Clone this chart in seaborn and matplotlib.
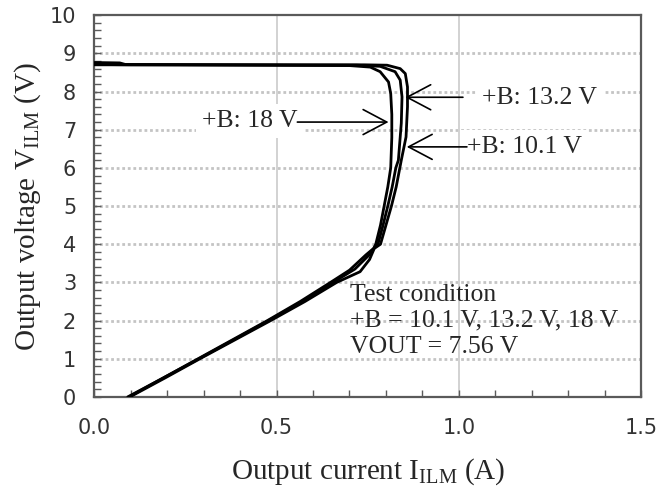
import numpy as np
import pandas as pd
import matplotlib
matplotlib.use("Agg")
import matplotlib.pyplot as plt
from matplotlib.ticker import MultipleLocator
import seaborn as sns

# dữ liệu: dòng ra I_ILM (A) và điện áp ra V_ILM (V) cho 3 mức +B
I_18 = [0.092, 0.19, 0.285, 0.38, 0.475, 0.565, 0.648, 0.700, 0.745, 0.766, 0.772,
        0.785, 0.795, 0.805, 0.813, 0.816, 0.816, 0.813, 0.807, 0.784, 0.757, 0.70,
        0.40, 0.10, 0.0]
V_18 = [0.0, 0.5, 1.0, 1.5, 2.0, 2.5, 3.0, 3.32, 3.72, 3.89, 4.0,
        4.5, 5.0, 5.5, 6.0, 6.8, 7.4, 7.95, 8.25, 8.52, 8.64, 8.68,
        8.69, 8.70, 8.70]

I_13 = [0.095, 0.19, 0.287, 0.383, 0.478, 0.57, 0.655, 0.715, 0.752, 0.767, 0.778,
        0.792, 0.805, 0.817, 0.827, 0.834, 0.842, 0.844, 0.839, 0.825, 0.784, 0.72,
        0.40, 0.10, 0.0]
V_13 = [0.0, 0.5, 1.0, 1.5, 2.0, 2.5, 3.0, 3.35, 3.7, 3.89, 4.0,
        4.5, 5.0, 5.5, 6.0, 6.2, 7.17, 7.86, 8.30, 8.52, 8.66, 8.69,
        8.70, 8.70, 8.71]

I_10 = [0.098, 0.195, 0.29, 0.387, 0.484, 0.578, 0.665, 0.729, 0.755, 0.768, 0.785,
        0.800, 0.815, 0.828, 0.838, 0.842, 0.855, 0.859, 0.859, 0.853, 0.839, 0.803,
        0.74, 0.40, 0.085, 0.07, 0.0]
V_10 = [0.0, 0.5, 1.0, 1.5, 2.0, 2.5, 3.0, 3.28, 3.6, 3.89, 4.0,
        4.5, 5.0, 5.5, 6.0, 6.2, 6.81, 7.6, 8.12, 8.47, 8.6, 8.69,
        8.70, 8.70, 8.71, 8.75, 8.76]

series_names = ["+B: 18 V", "+B: 13.2 V", "+B: 10.1 V"]

x_ticks = [0.0, 0.5, 1.0, 1.5]
x_tick_labels = ["0.0", "0.5", "1.0", "1.5"]
y_ticks = list(range(0, 11))

# gom lại thành bảng dài cho seaborn
df = pd.concat([
    pd.DataFrame({"I": I_18, "V": V_18, "series": series_names[0]}),
    pd.DataFrame({"I": I_13, "V": V_13, "series": series_names[1]}),
    pd.DataFrame({"I": I_10, "V": V_10, "series": series_names[2]}),
], ignore_index=True)

sns.set_theme(style="white")
plt.rcParams["font.family"] = ["Liberation Serif", "DejaVu Serif"]
plt.rcParams["mathtext.fontset"] = "custom"
plt.rcParams["mathtext.rm"] = "Liberation Serif"

fig = plt.figure(figsize=(6.68, 4.90), dpi=100)
ax = fig.add_axes([0.141, 0.19, 0.819, 0.779])

frame_c = "#5a5a5a"

# lưới: ngang chấm, dọc liền
for v in range(1, 10):
    ax.axhline(v, color="#c4c4c4", lw=2.0, ls=(0, (1, 1)), zorder=0.5)
for v in [0.5, 1.0]:
    ax.axvline(v, color="#d2d2d2", lw=1.4, zorder=0.5)

sns.lineplot(data=df, x="I", y="V", units="series", estimator=None, sort=False,
             color="black", lw=2.0, ax=ax, zorder=3, legend=False)

ax.set_xlim(0, 1.5)
ax.set_ylim(0, 10)
ax.set_xticks(x_ticks)
ax.set_xticklabels(x_tick_labels)
ax.set_yticks(y_ticks)
ax.xaxis.set_minor_locator(MultipleLocator(0.1))
ax.yaxis.set_minor_locator(MultipleLocator(0.2))
ax.tick_params(axis="both", which="both", direction="in", color=frame_c,
               width=1.0, bottom=True, left=True, top=False, right=False)
ax.tick_params(axis="both", which="major", length=5, labelsize=15)
ax.tick_params(axis="both", which="minor", length=5)
ax.tick_params(axis="x", which="major", pad=15)
ax.tick_params(axis="y", which="major", pad=13)
for lab in ax.get_xticklabels() + ax.get_yticklabels():
    lab.set_fontfamily("DejaVu Sans")
    lab.set_color("#333333")

for sp in ax.spines.values():
    sp.set_color(frame_c)
    sp.set_linewidth(1.6)

ax.set_xlabel(r"Output current $\mathregular{I_{ILM}}$ (A)", fontsize=21)
ax.set_ylabel(r"Output voltage $\mathregular{V_{ILM}}$ (V)", fontsize=21)
ax.xaxis.set_label_coords(0.5, -0.155)
ax.yaxis.set_label_coords(-0.093, 0.5)

box = dict(facecolor="white", edgecolor="none", pad=4)
ax.text(0.557, 7.23, series_names[0], fontsize=18.5, ha="right", va="center",
        bbox=box, zorder=2)
ax.text(1.063, 7.82, series_names[1], fontsize=18.5, ha="left", va="center",
        bbox=box, zorder=2)
ax.text(1.022, 6.55, series_names[2], fontsize=18.5, ha="left", va="center",
        bbox=box, zorder=2)

arrow = dict(arrowstyle="->,head_length=0.85,head_width=0.45", color="black",
             lw=1.2, shrinkA=0, shrinkB=0, mutation_scale=20)
ax.annotate("", xy=(0.807, 7.2), xytext=(0.557, 7.2), arrowprops=arrow, zorder=4)
ax.annotate("", xy=(0.853, 7.85), xytext=(1.011, 7.85), arrowprops=arrow, zorder=4)
ax.annotate("", xy=(0.857, 6.55), xytext=(1.022, 6.55), arrowprops=arrow, zorder=4)

ax.text(0.702, 1.99, "Test condition\n+B = 10.1 V, 13.2 V, 18 V\nVOUT = 7.56 V",
        fontsize=18.5, ha="left", va="center", linespacing=1.22, zorder=2)

plt.savefig("out.png", dpi=100)
